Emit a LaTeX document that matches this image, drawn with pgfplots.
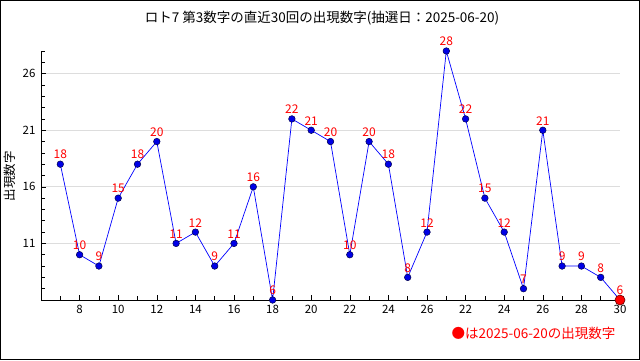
\documentclass[border=0pt]{standalone}
\usepackage{pgfplots}
\pgfplotsset{compat=1.18}
\usepackage{fontspec}
\setmainfont{Noto Sans CJK JP}
\definecolor{gridgray}{RGB}{221,221,221}
\definecolor{lblred}{RGB}{255,0,0}
\definecolor{lineblue}{RGB}{0,0,255}
\definecolor{markblue}{RGB}{0,0,230}
\begin{document}
\begin{tikzpicture}[x=1pt,y=1pt]
\useasboundingbox (0,0) rectangle (640,360);
\draw[black,line width=1pt] (0.5,0.5) rectangle (639.5,359.5);
\node[font=\fontsize{13.5}{15}\selectfont] at (322,342) {ロト7 第3数字の直近30回の出現数字(抽選日：2025-06-20)};
\node[rotate=90,font=\fontsize{12.5}{14}\selectfont] at (10,184) {出現数字};
\node[anchor=east,text=lblred,font=\fontsize{13.5}{15}\selectfont] at (619,27) {●は2025-06-20の出現数字};
\begin{axis}[
  at={(41pt,60pt)}, anchor=south west,
  scale only axis, width=579pt, height=249pt,
  xmin=0, xmax=30, ymin=6, ymax=28,
  axis x line*=bottom, axis y line*=left,
  axis line style={-, black, line width=0.8pt},
  xtick={2,4,...,30},
  xticklabels={8,10,12,14,16,18,20,22,24,26,22,24,26,28,30},
  minor xtick={1,...,30},
  ytick={11,16,21,26},
  minor ytick={6,...,28},
  tick align=inside,
  major tick length=5pt, minor tick length=4pt,
  tick style={black, line width=0.6pt},
  ymajorgrids, major grid style={gridgray, line width=0.8pt},
  ticklabel style={font=\fontsize{11.5}{13}\selectfont},
  /pgf/number format/assume math mode=true,
  xticklabel style={yshift=-2pt},
  yticklabel style={xshift=-2pt},
  clip=false,
]
\addplot[lineblue, line width=0.7pt, mark=*, mark size=3.3pt,
  mark options={fill=markblue, draw=black!70!blue, line width=0.5pt},
  nodes near coords,
  every node near coord/.append style={text=lblred, font=\fontsize{12}{14}\selectfont, yshift=1.5pt}]
coordinates {
(1,18)(2,10)(3,9)(4,15)(5,18)(6,20)(7,11)(8,12)(9,9)(10,11)
(11,16)(12,6)(13,22)(14,21)(15,20)(16,10)(17,20)(18,18)(19,8)(20,12)
(21,28)(22,22)(23,15)(24,12)(25,7)(26,21)(27,9)(28,9)(29,8)(30,6)
};
\addplot[only marks, mark=*, mark size=5pt,
  mark options={fill=lblred, draw=black!60!red, line width=0.6pt}]
coordinates {(30,6)};
\end{axis}
\end{tikzpicture}
\end{document}
